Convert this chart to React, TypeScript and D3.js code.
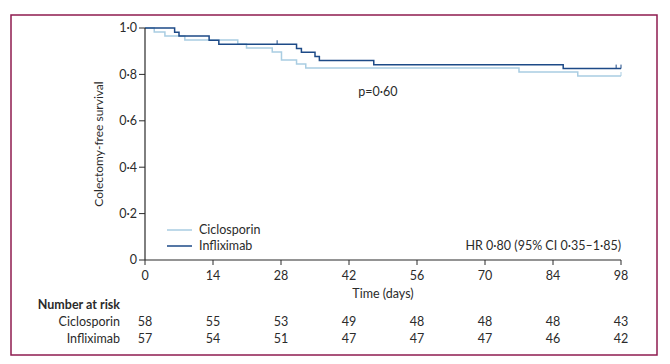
import * as d3 from "d3";

// Kaplan-Meier steps: [day, survival after the step]
const ciclosporinSteps: [number, number][] = [
  [0, 1.0], [1.9, 0.983], [4.1, 0.966], [8.2, 0.948], [19.1, 0.931], [20.9, 0.914],
  [26.2, 0.897], [28.1, 0.862], [31.2, 0.845], [33.1, 0.828], [77, 0.81], [89.1, 0.793], [98, 0.793],
];
const infliximabSteps: [number, number][] = [
  [0, 1.0], [6.1, 0.982], [7.0, 0.965], [13.2, 0.947], [15.2, 0.93], [31.2, 0.912],
  [32.2, 0.895], [35.0, 0.877], [35.9, 0.86], [47.1, 0.842], [86.1, 0.825], [98, 0.825],
];
const ciclosporinCensored: [number, number][] = [[98, 0.793]];
const infliximabCensored: [number, number][] = [[27.2, 0.93], [97, 0.825], [98, 0.825]];

const xTicks = [0, 14, 28, 42, 56, 70, 84, 98];
const yTicks = [0, 0.2, 0.4, 0.6, 0.8, 1.0];
const riskGroups = ["Ciclosporin", "Infliximab"];
const ciclosporinAtRisk = [58, 55, 53, 49, 48, 48, 48, 43];
const infliximabAtRisk = [57, 54, 51, 47, 47, 47, 46, 42];

const pValueText = "p=0·60";
const hrText = "HR 0·80 (95% CI 0·35–1·85)";

const W = 670;
const H = 364;
const light = "#a9cde2";
const dark = "#1d4a87";
const ink = "#2b2b2b";
const font = "Lato, 'Open Sans', sans-serif";
const fs = 12.5;

const fmt = (v: number) => (v === 0 ? "0" : v.toFixed(1).replace(".", "·"));

export default function App() {
  const x = d3.scaleLinear().domain([0, 98]).range([145, 621]);
  const y = d3.scaleLinear().domain([0, 1]).range([260, 28]);

  const line = d3
    .line<[number, number]>()
    .x((d) => x(d[0]))
    .y((d) => y(d[1]))
    .curve(d3.curveStepAfter);

  const series = [
    { name: "Ciclosporin", steps: ciclosporinSteps, cens: ciclosporinCensored, color: light },
    { name: "Infliximab", steps: infliximabSteps, cens: infliximabCensored, color: dark },
  ];
  const atRisk = [ciclosporinAtRisk, infliximabAtRisk];

  return (
    <svg
      width={W}
      height={H}
      style={{ position: "absolute", left: 0, top: 0, fontFamily: font }}
    >
      <rect x={0} y={0} width={W} height={H} fill="#fff" />
      <rect x={11} y={15} width={646} height={340} fill="none" stroke="#8e1b4f" strokeWidth={1.5} />

      {/* curves */}
      {series.map((s) => (
        <g key={s.name}>
          <path d={line(s.steps) || ""} fill="none" stroke={s.color} strokeWidth={1.5} />
          {s.cens.map((c, i) => (
            <line
              key={i}
              x1={x(c[0])}
              x2={x(c[0])}
              y1={y(c[1])}
              y2={y(c[1]) - 4}
              stroke={s.color}
              strokeWidth={1}
            />
          ))}
        </g>
      ))}

      {/* y axis */}
      <line x1={x(0)} x2={x(0)} y1={y(0)} y2={y(1)} stroke={ink} strokeWidth={1.2} />
      {yTicks.map((t) => (
        <g key={t}>
          <line x1={x(0) - 6} x2={x(0)} y1={y(t)} y2={y(t)} stroke={ink} strokeWidth={1} />
          <text x={x(0) - 8} y={y(t)} dy="0.35em" textAnchor="end" fontSize={fs} fill={ink}>
            {fmt(t)}
          </text>
        </g>
      ))}
      <text
        transform={`translate(103,${y(0.5)}) rotate(-90)`}
        textAnchor="middle"
        fontSize={12}
        fill={ink}
      >
        Colectomy-free survival
      </text>

      {/* x axis */}
      <line x1={x(0)} x2={x(98)} y1={y(0)} y2={y(0)} stroke={ink} strokeWidth={1.2} />
      {xTicks.map((t) => (
        <g key={t}>
          <line x1={x(t)} x2={x(t)} y1={y(0)} y2={y(0) + 5} stroke={ink} strokeWidth={1} />
          <text x={x(t)} y={276} dy="0.35em" textAnchor="middle" fontSize={fs} fill={ink}>
            {t}
          </text>
        </g>
      ))}
      <text x={383} y={294} dy="0.35em" textAnchor="middle" fontSize={fs} fill={ink}>
        Time (days)
      </text>

      {/* legend */}
      {series.map((s, i) => (
        <g key={s.name} transform={`translate(0,${230 + i * 16})`}>
          <line x1={167} x2={192} y1={0} y2={0} stroke={s.color} strokeWidth={1.5} />
          <text x={199} y={0} dy="0.35em" fontSize={fs} fill={ink}>
            {s.name}
          </text>
        </g>
      ))}

      <text x={378} y={92} dy="0.35em" textAnchor="middle" fontSize={fs} fill={ink}>
        {pValueText}
      </text>
      <text x={621} y={246} dy="0.35em" textAnchor="end" fontSize={fs} fill={ink}>
        {hrText}
      </text>

      {/* number at risk */}
      <text x={120} y={305} dy="0.35em" textAnchor="end" fontSize={fs} fontWeight="bold" fill={ink}>
        Number at risk
      </text>
      {riskGroups.map((g, gi) => (
        <g key={g}>
          <text x={120} y={322 + gi * 17} dy="0.35em" textAnchor="end" fontSize={fs} fill={ink}>
            {g}
          </text>
          {atRisk[gi].map((n, i) => (
            <text
              key={i}
              x={x(xTicks[i])}
              y={322 + gi * 17}
              dy="0.35em"
              textAnchor="middle"
              fontSize={fs}
              fill={ink}
            >
              {n}
            </text>
          ))}
        </g>
      ))}
    </svg>
  );
}
